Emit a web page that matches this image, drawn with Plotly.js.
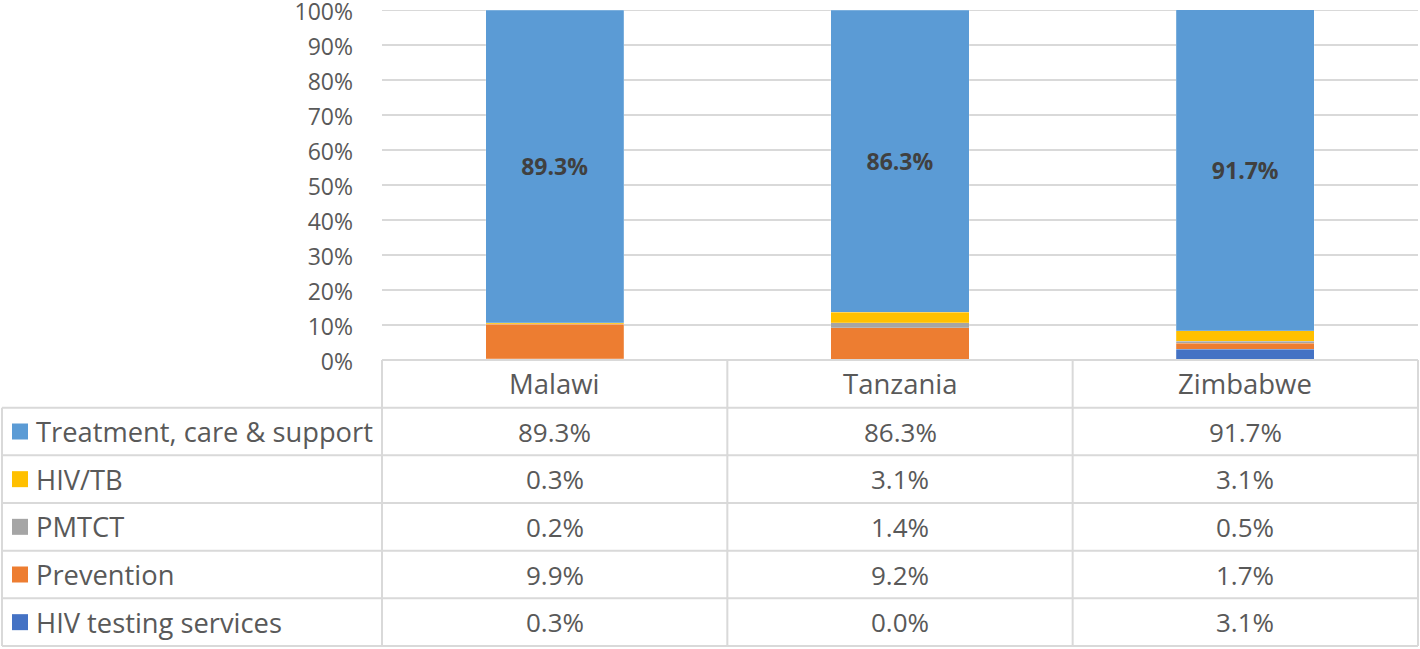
<!DOCTYPE html>
<html>
<head>
<meta charset="utf-8">
<script src="https://cdn.plot.ly/plotly-3.0.1.min.js"></script>
<style>html,body{margin:0;padding:0;background:#fff;}#chart{width:1420px;height:649px;}</style>
</head>
<body>
<div id="chart"></div>
<script>
// ---- data ----
const countries = ["Malawi", "Tanzania", "Zimbabwe"];
const seriesNames = ["Treatment, care & support", "HIV/TB", "PMTCT", "Prevention", "HIV testing services"];
const treatment = [89.3, 86.3, 91.7];
const hivTb = [0.3, 3.1, 3.1];
const pmtct = [0.2, 1.4, 0.5];
const prevention = [9.9, 9.2, 1.7];
const testing = [0.3, 0.0, 3.1];
const yTickVals = [0, 0.1, 0.2, 0.3, 0.4, 0.5, 0.6, 0.7, 0.8, 0.9, 1.0];

// ---- styles ----
const colors = {
  "Treatment, care & support": "#5b9bd5",
  "HIV/TB": "#ffc000",
  "PMTCT": "#a5a5a5",
  "Prevention": "#ed7d31",
  "HIV testing services": "#4472c4"
};
const seriesData = {
  "Treatment, care & support": treatment,
  "HIV/TB": hivTb,
  "PMTCT": pmtct,
  "Prevention": prevention,
  "HIV testing services": testing
};
const FONT = "'Open Sans', sans-serif";
const W = 1420, H = 649, ML = 382, MR = 2, MT = 10, MB = 3;
const PW = W - ML - MR, PH = H - MT - MB;
const px = p => (p - ML) / PW;
const py = p => (H - MB - p) / PH;
const tableTop = 360, tableBottom = 646;
const rowH = (tableBottom - tableTop) / 6;
const gridC = "#d9d9d9";
const textC = "#595959";
const labelC = "#404040";

// stack bottom-up: reverse of table order
const stackOrder = seriesNames.slice().reverse();
const traces = stackOrder.map(name => ({
  type: "bar",
  name: name,
  x: countries,
  y: seriesData[name].map(v => v / 100),
  marker: { color: colors[name], line: { color: "rgba(255,255,255,0.4)", width: 0.5 } },
  width: 0.4,
  hoverinfo: "skip",
  text: name === "Treatment, care & support" ? seriesData[name].map(v => v.toFixed(1) + "%") : undefined,
  textposition: name === "Treatment, care & support" ? "inside" : "none",
  insidetextanchor: "middle",
  textfont: { family: FONT, size: 23, color: labelC, weight: "bold" },
  textangle: 0
}));

const shapes = [];
const annotations = [];
const hline = (x0p, x1p, yp) => shapes.push({ type: "line", xref: "paper", yref: "paper",
  x0: px(x0p), x1: px(x1p), y0: py(yp), y1: py(yp), line: { color: gridC, width: 2 } });
const vline = (xp, y0p, y1p) => shapes.push({ type: "line", xref: "paper", yref: "paper",
  x0: px(xp), x1: px(xp), y0: py(y0p), y1: py(y1p), line: { color: gridC, width: 2 } });

// top (100%) gridline, which plotly omits at the plot edge
shapes.push({ type: "line", xref: "paper", yref: "y", x0: 0, x1: 1, y0: 1, y1: 1,
  line: { color: gridC, width: 2 }, layer: "below" });

// table grid
hline(ML, W - MR, tableTop);
for (let r = 1; r <= 6; r++) hline(2, W - MR, tableTop + r * rowH);
vline(2, tableTop + rowH, tableBottom);
for (let c = 0; c <= countries.length; c++) vline(ML + c * PW / countries.length, tableTop, tableBottom);

// header row
countries.forEach((c, i) => annotations.push({
  xref: "x", yref: "paper", x: c, y: py(tableTop + rowH / 2), text: c, showarrow: false,
  xanchor: "center", yanchor: "middle", font: { family: FONT, size: 27.5, color: textC }
}));

// body rows
seriesNames.forEach((name, r) => {
  const yc = tableTop + (r + 1.5) * rowH;
  shapes.push({ type: "rect", xref: "paper", yref: "paper", x0: px(12), x1: px(28),
    y0: py(yc + 8), y1: py(yc - 8), fillcolor: colors[name], line: { width: 0 } });
  annotations.push({ xref: "paper", yref: "paper", x: px(34), y: py(yc), text: name,
    showarrow: false, xanchor: "left", yanchor: "middle", font: { family: FONT, size: 27.3, color: textC } });
  seriesData[name].forEach((v, i) => annotations.push({
    xref: "x", yref: "paper", x: countries[i], y: py(yc), text: v.toFixed(1) + "%", showarrow: false,
    xanchor: "center", yanchor: "middle", font: { family: FONT, size: 26, color: textC }
  }));
});

const layout = {
  width: W, height: H,
  margin: { l: ML, r: MR, t: MT, b: MB, pad: 0 },
  paper_bgcolor: "#fff", plot_bgcolor: "#fff",
  barmode: "stack",
  showlegend: false,
  xaxis: { type: "category", showticklabels: false, showgrid: false, zeroline: false, showline: false, ticks: "" },
  yaxis: {
    domain: [py(tableTop), 1], range: [0, 1], tickvals: yTickVals, tickformat: ".0%",
    showgrid: true, gridcolor: gridC, gridwidth: 2, zeroline: false, showline: false, ticks: "",
    ticklabelstandoff: 28, ticklabeloverflow: "allow", ticklabelshift: 2,
    tickfont: { family: FONT, size: 23, color: textC }
  },
  shapes: shapes,
  annotations: annotations,
  font: { family: FONT, color: textC }
};

Plotly.newPlot("chart", traces, layout, { displayModeBar: false, staticPlot: true });
</script>
</body>
</html>
